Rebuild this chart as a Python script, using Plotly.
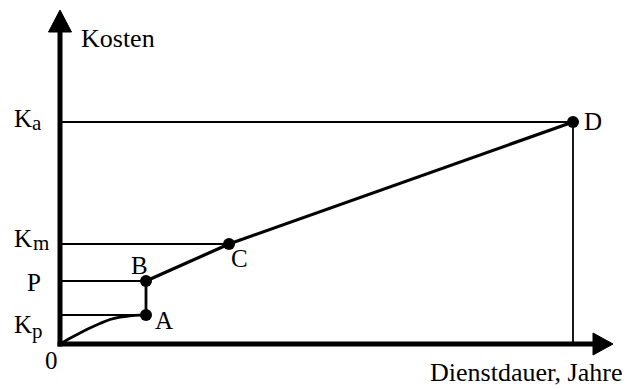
import plotly.graph_objects as go

# Data (abstract units: cost vs service duration)
point_names = ["A", "B", "C", "D"]
point_x = [86, 88, 169, 513]
point_y = [29, 63, 100, 222]

curve_x = [0, 10, 20, 30, 40, 50, 60, 70, 80, 86]
curve_y = [0, 5.8, 11, 16, 20.5, 24.5, 26.8, 28.2, 28.9, 29]

level_main = ["K", "P", "K", "K"]
level_sub = ["p", "", "m", "a"]
level_values = [29, 63, 100, 222]
level_ends = [86, 88, 169, 513]

x_axis_len = 553
y_axis_len = 334
x_title = "Dienstdauer, Jahre"
y_title = "Kosten"

FONT = "Liberation Serif, Times New Roman, serif"
fig = go.Figure()

# horizontal guide lines
for v, e in zip(level_values, level_ends):
    fig.add_trace(go.Scatter(x=[0, e], y=[v, v], mode="lines",
                             line=dict(color="black", width=1.8), hoverinfo="skip"))
# vertical from D
fig.add_trace(go.Scatter(x=[point_x[3], point_x[3]], y=[0, point_y[3]], mode="lines",
                         line=dict(color="black", width=1.8), hoverinfo="skip"))
# curve 0 -> A
fig.add_trace(go.Scatter(x=curve_x, y=curve_y, mode="lines", line_shape="spline",
                         line=dict(color="black", width=2.8), hoverinfo="skip"))
# A -> B -> C -> D
fig.add_trace(go.Scatter(x=[point_x[0], point_x[0]], y=[point_y[0], point_y[1]], mode="lines",
                         line=dict(color="black", width=2.8), hoverinfo="skip"))
fig.add_trace(go.Scatter(x=[point_x[0]] + point_x[2:], y=point_y[1:], mode="lines",
                         line=dict(color="black", width=3.2), hoverinfo="skip"))
# axes
fig.add_trace(go.Scatter(x=[0, 0], y=[-2.5, y_axis_len - 22], mode="lines",
                         line=dict(color="black", width=5), hoverinfo="skip"))
fig.add_trace(go.Scatter(x=[-2.5, x_axis_len - 20], y=[0, 0], mode="lines",
                         line=dict(color="black", width=5), hoverinfo="skip"))
# arrow heads
fig.add_trace(go.Scatter(x=[-11.5, 11.5, 0, -11.5], y=[y_axis_len - 22, y_axis_len - 22, y_axis_len, y_axis_len - 22],
                         mode="lines", fill="toself", fillcolor="black",
                         line=dict(color="black", width=1), hoverinfo="skip"))
fig.add_trace(go.Scatter(x=[x_axis_len - 20, x_axis_len - 20, x_axis_len, x_axis_len - 20], y=[-11, 11, 0, -11],
                         mode="lines", fill="toself", fillcolor="black",
                         line=dict(color="black", width=1), hoverinfo="skip"))
# points
fig.add_trace(go.Scatter(x=[point_x[0], point_x[0], point_x[2], point_x[3]], y=point_y, mode="markers",
                         marker=dict(color="black", size=12), hoverinfo="skip"))

ann = []
def txt(x, y, t, size=25, xanchor="center"):
    ann.append(dict(x=x, y=y, xref="x", yref="y", text=t, showarrow=False,
                    xanchor=xanchor, yanchor="middle",
                    font=dict(family=FONT, size=size, color="black")))

# point labels
txt(104, 24, point_names[0])
txt(79, 79, point_names[1])
txt(179, 86, point_names[2])
txt(533, 223, point_names[3])
# level labels (main letter + subscript)
txt(-37.5, 19.5, level_main[0])
txt(-22.5, 13, level_sub[0], size=21)
txt(-26, 62, level_main[1])
txt(-37.5, 105.5, level_main[2])
txt(-19.5, 101, level_sub[2], size=21)
txt(-37.5, 226, level_main[3])
txt(-23.5, 221, level_sub[3], size=21)
txt(-9, -16, "0")
# axis titles
txt(19, 306, y_title, size=26, xanchor="left")
txt(466, -28, x_title, size=26)

# page has an 8px body margin: ranges compensate so marks land where intended
fig.update_layout(
    width=630, height=389, margin=dict(l=0, r=0, t=0, b=0),
    paper_bgcolor="white", plot_bgcolor="white", showlegend=False,
    xaxis=dict(range=[-52, 578], visible=False, fixedrange=True),
    yaxis=dict(range=[-53, 336], visible=False, fixedrange=True),
    annotations=ann,
)
fig.write_html("out.html")
